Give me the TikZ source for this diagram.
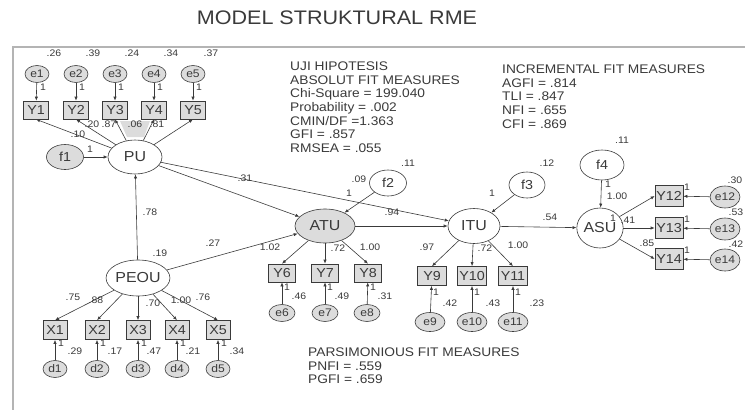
\documentclass[tikz,border=0pt]{standalone}
\usepackage{fontspec}
\setmainfont[FakeStretch=1.1]{Liberation Sans}
\usetikzlibrary{arrows.meta, shapes.geometric}
\definecolor{inkcol}{HTML}{3A3A3A}
\definecolor{boxcol}{HTML}{DCDCDC}
\definecolor{framecol}{HTML}{B4B4B4}
\newcommand{\fitsize}{\fontsize{12.5}{13.7}\selectfont}

\begin{document}
\begin{tikzpicture}[x=1pt, y=-1pt,
      every node/.style={font=\fontsize{9.5}{10}\selectfont, text=inkcol, inner sep=0pt},
      latent/.style={ellipse, draw=inkcol, line width=0.6pt, fill=white, font=\fontsize{14.5}{15}\selectfont},
      errnode/.style={ellipse, draw=inkcol, line width=0.6pt, fill=boxcol, minimum width=24pt, minimum height=17pt,
                      font=\fontsize{11}{11}\selectfont},
      ind/.style={rectangle, draw=inkcol, line width=0.6pt, fill=boxcol, minimum width=25pt, minimum height=18pt,
                  font=\fontsize{13}{13}\selectfont},
      arr/.style={-{Latex[length=4pt, width=3.2pt]}, draw=inkcol, line width=0.6pt},
      est/.style={font=\fontsize{9.5}{10}\selectfont},
      fitblock/.style={anchor=north west, align=left, font=\fitsize}]
    \useasboundingbox (0,0) rectangle (745,410);
    \node[font=\fontsize{19.6}{20}\selectfont] (title) at (337,18) {MODEL STRUKTURAL RME};
    \draw[framecol, line width=1.6pt] (745,47) -- (13,47) -- (13,410);

    % PU and its indicators
    \fill[boxcol] (120,121) -- (150,121) -- (144,137) -- (127,137) -- cycle;
    \node[latent] (PU) at (135,157) [minimum width=54pt, minimum height=34pt] {PU};
    \node[latent, fill=boxcol, font=\fontsize{13}{13}\selectfont, minimum width=37pt, minimum height=25pt] (f1) at (65,157) {f1};
    \node[ind] (Y1) at (36,110) {Y1};
    \node[ind] (Y2) at (76,110) {Y2};
    \node[ind] (Y3) at (115,110) {Y3};
    \node[ind] (Y4) at (154,110) {Y4};
    \node[ind] (Y5) at (193,110) {Y5};
    \node[errnode] (e1) at (37,74) {e1};
    \node[errnode] (e2) at (76,74) {e2};
    \node[errnode] (e3) at (115,74) {e3};
    \node[errnode] (e4) at (154,74) {e4};
    \node[errnode] (e5) at (193,74) {e5};
    \draw[arr] (e1) -- (Y1);
    \draw[arr] (e2) -- (Y2);
    \draw[arr] (e3) -- (Y3);
    \draw[arr] (e4) -- (Y4);
    \draw[arr] (e5) -- (Y5);
    \draw[arr] (PU) -- (Y1.south);
    \draw[arr] (PU) -- (Y2.south);
    \draw[arr] (PU) -- (Y3.south);
    \draw[arr] (PU) -- (Y4.south);
    \draw[arr] (PU) -- (Y5.south);
    \draw[arr] (f1) -- (PU);
    \node[est] (ve1) at (54,53) {.26};
    \node[est] (ve2) at (93,53) {.39};
    \node[est] (ve3) at (132,53) {.24};
    \node[est] (ve4) at (171,53) {.34};
    \node[est] (ve5) at (211,53) {.37};
    \node[est] (we1) at (43,87) {1};
    \node[est] (we2) at (82,87) {1};
    \node[est] (we3) at (121,87) {1};
    \node[est] (we4) at (160,87) {1};
    \node[est] (we5) at (199,87) {1};
    \node[est] (lY1) at (78,134) {.10};
    \node[est] (lY2) at (92,124) {.20};
    \node[est] (lY3) at (109,124) {.87};
    \node[est] (lY4) at (135,124) {.06};
    \node[est] (lY5) at (157,124) {.81};
    \node[est] (wf1) at (90,149) {1};

    % PEOU and its indicators
    \node[latent, minimum width=56pt, minimum height=36pt] (PEOU) at (138,278) {PEOU};
    \node[ind, minimum width=24pt, minimum height=19pt] (X1) at (55,330) {X1};
    \node[ind, minimum width=24pt, minimum height=19pt] (X2) at (97,330) {X2};
    \node[ind, minimum width=24pt, minimum height=19pt] (X3) at (138,330) {X3};
    \node[ind, minimum width=24pt, minimum height=19pt] (X4) at (177,330) {X4};
    \node[ind, minimum width=24pt, minimum height=19pt] (X5) at (218,330) {X5};
    \node[errnode] (d1) at (55,369) {d1};
    \node[errnode] (d2) at (97,369) {d2};
    \node[errnode] (d3) at (138,369) {d3};
    \node[errnode] (d4) at (177,369) {d4};
    \node[errnode] (d5) at (218,369) {d5};
    \draw[arr] (PEOU) -- (PU);
    \draw[arr] (PEOU) -- (X1.north);
    \draw[arr] (PEOU) -- (X2.north);
    \draw[arr] (PEOU) -- (X3.north);
    \draw[arr] (PEOU) -- (X4.north);
    \draw[arr] (PEOU) -- (X5.north);
    \draw[arr] (d1) -- (X1);
    \draw[arr] (d2) -- (X2);
    \draw[arr] (d3) -- (X3);
    \draw[arr] (d4) -- (X4);
    \draw[arr] (d5) -- (X5);
    \node[est] (lPU) at (150,212) {.78};
    \node[est] (vPEOU) at (160,253) {.19};
    \node[est] (lX1) at (73,297) {.75};
    \node[est] (lX2) at (96,300) {.88};
    \node[est] (lX3) at (153,303) {.70};
    \node[est] (lX4) at (181,300) {1.00};
    \node[est] (lX5) at (203,297) {.76};
    \node[est] (wd1) at (61,343) {1};
    \node[est] (wd2) at (103,343) {1};
    \node[est] (wd3) at (144,343) {1};
    \node[est] (wd4) at (183,343) {1};
    \node[est] (wd5) at (224,343) {1};
    \node[est] (vd1) at (75,351) {.29};
    \node[est] (vd2) at (115,351) {.17};
    \node[est] (vd3) at (154,351) {.47};
    \node[est] (vd4) at (193,351) {.21};
    \node[est] (vd5) at (237,351) {.34};

    % ATU
    \node[latent, fill=boxcol, minimum width=60pt, minimum height=34pt] (ATU) at (325,226) {ATU};
    \node[latent, font=\fontsize{13}{13}\selectfont, minimum width=37pt, minimum height=26pt] (f2) at (388,183) {f2};
    \node[ind, minimum width=27pt] (Y6) at (282,273) {Y6};
    \node[ind, minimum width=27pt] (Y7) at (325,273) {Y7};
    \node[ind, minimum width=27pt] (Y8) at (368,273) {Y8};
    \node[errnode, minimum width=26pt] (e6) at (282,313) {e6};
    \node[errnode, minimum width=26pt] (e7) at (325,313) {e7};
    \node[errnode, minimum width=26pt] (e8) at (367,313) {e8};
    \draw[arr] (PU) -- (ATU);
    \draw[arr] (PEOU) -- (ATU);
    \draw[arr] (f2) -- (ATU);
    \draw[arr] (ATU) -- (Y6.north);
    \draw[arr] (ATU) -- (Y7.north);
    \draw[arr] (ATU) -- (Y8.north);
    \draw[arr] (e6) -- (Y6);
    \draw[arr] (e7) -- (Y7);
    \draw[arr] (e8) -- (Y8);
    \node[est] (lATU1) at (245,178) {.31};
    \node[est] (lATU2) at (213,243) {.27};
    \node[est] (vf2) at (408,163) {.11};
    \node[est] (cf2) at (359,179) {.09};
    \node[est] (wf2) at (349,193) {1};
    \node[est] (lY6) at (270,247) {1.02};
    \node[est] (lY7) at (338,248) {.72};
    \node[est] (lY8) at (370,247) {1.00};
    \node[est] (we6) at (287,287) {1};
    \node[est] (we7) at (330,287) {1};
    \node[est] (we8) at (373,287) {1};
    \node[est] (ve6) at (299,296) {.46};
    \node[est] (ve7) at (342,296) {.49};
    \node[est] (ve8) at (385,296) {.31};

    % ITU
    \node[latent, minimum width=52pt, minimum height=35pt] (ITU) at (474,226) {ITU};
    \node[latent, font=\fontsize{13}{13}\selectfont, minimum width=36pt, minimum height=26pt] (f3) at (527,185) {f3};
    \node[ind, minimum width=29pt, minimum height=19pt] (Y9) at (432,276) {Y9};
    \node[ind, minimum width=29pt, minimum height=19pt] (Y10) at (472,276) {Y10};
    \node[ind, minimum width=29pt, minimum height=19pt] (Y11) at (513,276) {Y11};
    \node[errnode, minimum width=30pt, minimum height=19pt] (e9) at (430,322) {e9};
    \node[errnode, minimum width=30pt, minimum height=19pt] (e10) at (472,322) {e10};
    \node[errnode, minimum width=30pt, minimum height=19pt] (e11) at (513,322) {e11};
    \draw[arr] (PU) -- (ITU);
    \draw[arr] (ATU) -- (ITU);
    \draw[arr] (f3) -- (ITU);
    \draw[arr] (ITU) -- (Y9.north);
    \draw[arr] (ITU) -- (Y10.north);
    \draw[arr] (ITU) -- (Y11.north);
    \draw[arr] (e9) -- (Y9);
    \draw[arr] (e10) -- (Y10);
    \draw[arr] (e11) -- (Y11);
    \node[est] (lITU) at (392,212) {.94};
    \node[est] (vf3) at (547,163) {.12};
    \node[est] (wf3) at (492,193) {1};
    \node[est] (lY9) at (427,247) {.97};
    \node[est] (lY10) at (485,248) {.72};
    \node[est] (lY11) at (518,245) {1.00};
    \node[est] (we9) at (436,292) {1};
    \node[est] (we10) at (477,292) {1};
    \node[est] (we11) at (518,292) {1};
    \node[est] (ve9) at (450,303) {.42};
    \node[est] (ve10) at (493,303) {.43};
    \node[est] (ve11) at (537,303) {.23};

    % ASU
    \node[latent, minimum width=46pt, minimum height=40pt] (ASU) at (600,228) {ASU};
    \node[latent, font=\fontsize{13}{13}\selectfont, minimum width=44pt, minimum height=30pt] (f4) at (602,165) {f4};
    \node[ind, minimum width=28pt, minimum height=21pt] (Y12) at (669,196) {Y12};
    \node[ind, minimum width=28pt, minimum height=21pt] (Y13) at (669,228) {Y13};
    \node[ind, minimum width=28pt, minimum height=21pt] (Y14) at (669,259) {Y14};
    \node[errnode, minimum width=30pt, minimum height=22pt] (e12) at (725,197) {e12};
    \node[errnode, minimum width=30pt, minimum height=22pt] (e13) at (725,229) {e13};
    \node[errnode, minimum width=30pt, minimum height=22pt] (e14) at (725,260) {e14};
    \draw[arr] (ITU) -- (ASU);
    \draw[arr] (f4) -- (ASU);
    \draw[arr] (ASU) -- (Y12.west);
    \draw[arr] (ASU) -- (Y13.west);
    \draw[arr] (ASU) -- (Y14.west);
    \draw[arr] (e12) -- (Y12);
    \draw[arr] (e13) -- (Y13);
    \draw[arr] (e14) -- (Y14);
    \node[est] (lASU) at (550,217) {.54};
    \node[est] (vf4) at (622,140) {.11};
    \node[est] (wf4) at (608,184) {1};
    \node[est] (cf4) at (617,196) {1.00};
    \node[est] (wY12) at (613,218) {1};
    \node[est] (lY12) at (628,220) {.41};
    \node[est] (lY14) at (647,243) {.85};
    \node[est] (we12) at (687,187) {1};
    \node[est] (we13) at (687,219) {1};
    \node[est] (we14) at (687,250) {1};
    \node[est] (ve12) at (735,180) {.30};
    \node[est] (ve13) at (736,212.5) {.53};
    \node[est] (ve14) at (736,244) {.42};

    % fit measures
    \node[fitblock] (absfit) at (290,61.5) {UJI HIPOTESIS\\ABSOLUT FIT MEASURES\\Chi-Square = 199.040\\Probability = .002\\CMIN/DF =1.363\\GFI = .857\\RMSEA = .055};
    \node[fitblock] (incfit) at (502,64.5) {INCREMENTAL FIT MEASURES\\AGFI = .814\\TLI = .847\\NFI = .655\\CFI = .869};
    \node[fitblock] (parfit) at (308,347.5) {PARSIMONIOUS FIT MEASURES\\PNFI = .559\\PGFI = .659};
  \end{tikzpicture}
\end{document}
